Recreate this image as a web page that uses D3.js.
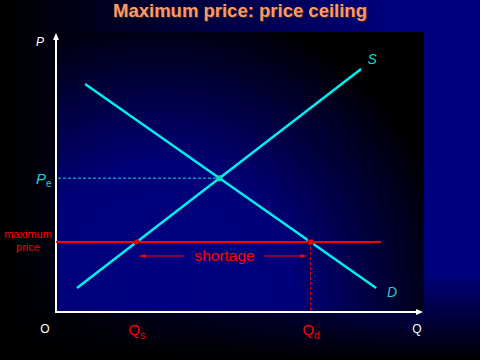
<!DOCTYPE html>
<html>
<head>
<meta charset="utf-8">
<script src="https://cdn.jsdelivr.net/npm/d3@7"></script>
<style>
  body { margin: 0; background: #000; }
  svg { display: block; font-family: Arial, "Liberation Sans", sans-serif; }
</style>
</head>
<body>
<div id="chart"></div>
<script>
// chart data (Q and P in axis units 0..10)
const titleText = "Maximum price: price ceiling";
const supplyQ = [0.57, 8.29];
const supplyP = [0.86, 8.68];
const demandQ = [0.79, 8.70];
const demandP = [8.14, 0.86];
const ceilingPrice = [2.5];
const ceilingEndQ = [8.83];
const shortageP = [2.0];
const axisLabels = ["P", "Q", "O"];
const curveLabels = ["S", "D"];
const ceilingLabel = ["maximum", "price"];

const width = 480, height = 360;
const x = d3.scaleLinear().domain([0, 10]).range([56, 424]);
const y = d3.scaleLinear().domain([0, 10]).range([312, 32]);

const svg = d3.select("#chart").append("svg")
    .attr("width", width)
    .attr("height", height);

const defs = svg.append("defs");

// outer background: black on the left to navy on the right
const bg = defs.append("linearGradient").attr("id", "bg")
    .attr("x1", 0).attr("y1", 0).attr("x2", 1).attr("y2", 0);
bg.append("stop").attr("offset", "0%").attr("stop-color", "#000000");
bg.append("stop").attr("offset", "85%").attr("stop-color", "#000080");
bg.append("stop").attr("offset", "100%").attr("stop-color", "#000080");

const bgFade = defs.append("linearGradient").attr("id", "bgFade")
    .attr("x1", 0).attr("y1", 0).attr("x2", 0).attr("y2", 1);
bgFade.append("stop").attr("offset", "0%").attr("stop-color", "#000").attr("stop-opacity", 0);
bgFade.append("stop").attr("offset", "75%").attr("stop-color", "#000").attr("stop-opacity", 0);
bgFade.append("stop").attr("offset", "100%").attr("stop-color", "#000").attr("stop-opacity", 1);

// plot area: navy near bottom left, black towards the corners
const plotBg = defs.append("radialGradient").attr("id", "plotBg")
    .attr("gradientUnits", "userSpaceOnUse")
    .attr("cx", 160).attr("cy", 300).attr("r", 300);
plotBg.append("stop").attr("offset", "0%").attr("stop-color", "#000080");
plotBg.append("stop").attr("offset", "45%").attr("stop-color", "#000078");
plotBg.append("stop").attr("offset", "100%").attr("stop-color", "#000000");

svg.append("rect").attr("width", width).attr("height", height).attr("fill", "url(#bg)");
svg.append("rect").attr("width", width).attr("height", height).attr("fill", "url(#bgFade)");

svg.append("rect")
    .attr("x", x(0)).attr("y", y(10))
    .attr("width", x(10) - x(0)).attr("height", y(0) - y(10))
    .attr("fill", "url(#plotBg)");

// title with shadow
svg.append("text")
    .attr("x", 241).attr("y", 18)
    .attr("text-anchor", "middle")
    .attr("font-size", 18.5).attr("font-weight", "bold")
    .attr("fill", "#3a2a20")
    .text(titleText);
svg.append("text")
    .attr("x", 240).attr("y", 17)
    .attr("text-anchor", "middle")
    .attr("font-size", 18.5).attr("font-weight", "bold")
    .attr("fill", "#ff9966")
    .text(titleText);

// axes
svg.append("line")
    .attr("x1", x(0)).attr("y1", y(0) + 1)
    .attr("x2", x(0)).attr("y2", y(10) + 4)
    .attr("stroke", "#fff").attr("stroke-width", 2);
svg.append("path")
    .attr("d", `M${x(0)},${y(10) + 1} L${x(0) - 3},${y(10) + 8} L${x(0) + 3},${y(10) + 8} Z`)
    .attr("fill", "#fff");
svg.append("line")
    .attr("x1", x(0) - 1).attr("y1", y(0))
    .attr("x2", x(10) - 4).attr("y2", y(0))
    .attr("stroke", "#fff").attr("stroke-width", 2);
svg.append("path")
    .attr("d", `M${x(10) - 1},${y(0)} L${x(10) - 8},${y(0) - 3} L${x(10) - 8},${y(0) + 3} Z`)
    .attr("fill", "#fff");

const line = d3.line().x(d => x(d[0])).y(d => y(d[1]));
const supply = d3.zip(supplyQ, supplyP);
const demand = d3.zip(demandQ, demandP);

// intersection of two straight lines
function meet(a, b) {
    const [x1, y1] = a[0], [x2, y2] = a[1], [x3, y3] = b[0], [x4, y4] = b[1];
    const den = (x1 - x2) * (y3 - y4) - (y1 - y2) * (x3 - x4);
    const t = ((x1 - x3) * (y3 - y4) - (y1 - y3) * (x3 - x4)) / den;
    return [x1 + t * (x2 - x1), y1 + t * (y2 - y1)];
}
function qAtPrice(seg, p) {
    const [[q1, p1], [q2, p2]] = seg;
    return q1 + (p - p1) * (q2 - q1) / (p2 - p1);
}

const eq = meet(supply, demand);
const qs = qAtPrice(supply, ceilingPrice[0]);
const qd = qAtPrice(demand, ceilingPrice[0]);

// Pe dashed guide
svg.append("line")
    .attr("x1", x(0) + 2).attr("y1", y(eq[1]))
    .attr("x2", x(eq[0])).attr("y2", y(eq[1]))
    .attr("stroke", "#00e0e0").attr("stroke-width", 1)
    .attr("stroke-dasharray", "3,2");

// supply and demand
[supply, demand].forEach(seg => {
    svg.append("path")
        .datum(seg)
        .attr("d", line)
        .attr("fill", "none")
        .attr("stroke", "#00f0f0")
        .attr("stroke-width", 2.5);
});

svg.append("circle")
    .attr("cx", x(eq[0])).attr("cy", y(eq[1]))
    .attr("r", 3)
    .attr("fill", "#00e0c0");

// Qd dashed guide
svg.append("line")
    .attr("x1", x(qd)).attr("y1", y(ceilingPrice[0]))
    .attr("x2", x(qd)).attr("y2", y(0) - 1)
    .attr("stroke", "#ff0000").attr("stroke-width", 1)
    .attr("stroke-dasharray", "3,2");

// price ceiling
svg.append("line")
    .attr("x1", x(0)).attr("y1", y(ceilingPrice[0]))
    .attr("x2", x(ceilingEndQ[0])).attr("y2", y(ceilingPrice[0]))
    .attr("stroke", "#ff0000").attr("stroke-width", 2);

svg.append("circle")
    .attr("cx", x(qs)).attr("cy", y(ceilingPrice[0]))
    .attr("r", 2.5)
    .attr("fill", "#ff0000").attr("stroke", "#800000").attr("stroke-width", 0.8);
svg.append("rect")
    .attr("x", x(qd) - 2.5).attr("y", y(ceilingPrice[0]) - 2.5)
    .attr("width", 5).attr("height", 5)
    .attr("fill", "#ff0000").attr("stroke", "#800000").attr("stroke-width", 0.8);

// shortage arrows
const sy = y(shortageP[0]);
const leftA = x(qs) + 3, rightA = x(qd) - 4;
svg.append("line")
    .attr("x1", leftA).attr("y1", sy).attr("x2", 184).attr("y2", sy)
    .attr("stroke", "#ff0000").attr("stroke-width", 1);
svg.append("path")
    .attr("d", `M${leftA},${sy} L${leftA + 6},${sy - 2} L${leftA + 6},${sy + 2} Z`)
    .attr("fill", "#ff0000");
svg.append("line")
    .attr("x1", 264).attr("y1", sy).attr("x2", rightA).attr("y2", sy)
    .attr("stroke", "#ff0000").attr("stroke-width", 1);
svg.append("path")
    .attr("d", `M${rightA},${sy} L${rightA - 6},${sy - 2} L${rightA - 6},${sy + 2} Z`)
    .attr("fill", "#ff0000");
svg.append("text")
    .attr("x", (x(qs) + x(qd)) / 2 + 1).attr("y", sy + 5)
    .attr("text-anchor", "middle")
    .attr("font-size", 15.5)
    .attr("fill", "#ff0000")
    .text("shortage");

// labels
svg.append("text")
    .attr("x", 40).attr("y", 46)
    .attr("text-anchor", "middle")
    .attr("font-size", 12).attr("font-style", "italic")
    .attr("fill", "#fff")
    .text(axisLabels[0]);
svg.append("text")
    .attr("x", 417).attr("y", 333)
    .attr("text-anchor", "middle")
    .attr("font-size", 12)
    .attr("fill", "#fff")
    .text(axisLabels[1]);
svg.append("text")
    .attr("x", 45).attr("y", 333)
    .attr("text-anchor", "middle")
    .attr("font-size", 12)
    .attr("fill", "#fff")
    .text(axisLabels[2]);

svg.append("text")
    .attr("x", x(supplyQ[1]) + 11).attr("y", 64)
    .attr("text-anchor", "middle")
    .attr("font-size", 14).attr("font-style", "italic")
    .attr("fill", "#20d0d0")
    .text(curveLabels[0]);
svg.append("text")
    .attr("x", 392).attr("y", 297)
    .attr("text-anchor", "middle")
    .attr("font-size", 14).attr("font-style", "italic")
    .attr("fill", "#20d0d0")
    .text(curveLabels[1]);

// Pe
const pe = svg.append("text")
    .attr("x", 36).attr("y", y(eq[1]) + 6)
    .attr("font-size", 15).attr("font-style", "italic")
    .attr("fill", "#20d0d0");
pe.append("tspan").text("P");
pe.append("tspan").attr("font-size", 10).attr("font-style", "normal").attr("dy", 3).text("e");

// maximum price
ceilingLabel.forEach((t, i) => {
    svg.append("text")
        .attr("x", 28).attr("y", y(ceilingPrice[0]) - 4 + i * 13)
        .attr("text-anchor", "middle")
        .attr("font-size", 11)
        .attr("fill", "#ff0000")
        .text(t);
});

// Qs and Qd
[[qs, "s"], [qd, "d"]].forEach(([q, sub]) => {
    const t = svg.append("text")
        .attr("x", x(q) - 8).attr("y", 335)
        .attr("font-size", 15)
        .attr("fill", "#ff0000");
    t.append("tspan").text("Q");
    t.append("tspan").attr("font-size", 10).attr("dy", 4).text(sub);
});
</script>
</body>
</html>
